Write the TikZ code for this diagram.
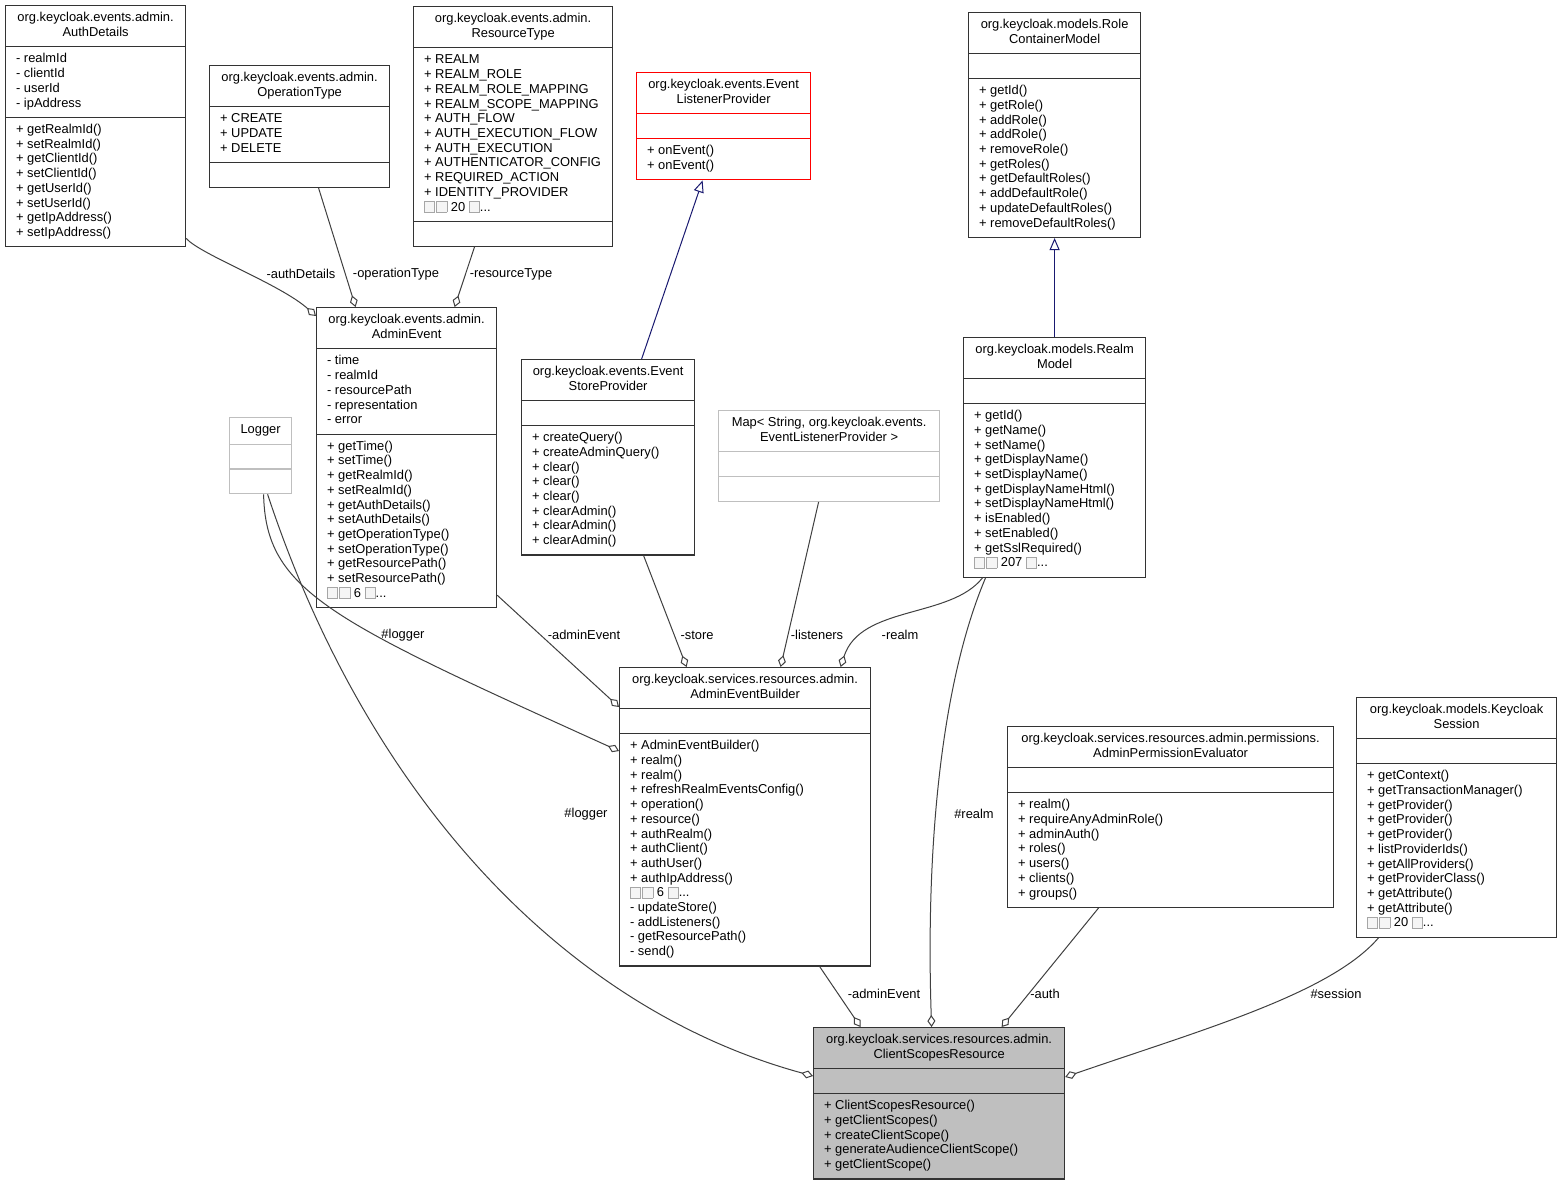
\documentclass[tikz,border=0pt]{standalone}
\usepackage{fontspec}
\setmainfont{Liberation Sans}
\usepackage{xcolor}
\usepackage{tikz}
\usetikzlibrary{
	shapes.multipart,
	arrows.meta
}

\definecolor{edgegray}{HTML}{404040}
\definecolor{inhblue}{HTML}{191970}
\definecolor{boxgray}{HTML}{BFBFBF}

\newcommand\ttl[1]{\makebox[\bw pt][c]{\begin{tabular}{@{}c@{}}#1\end{tabular}}}
\newcommand\mbr[1]{\makebox[\bw pt][l]{\hspace{10.5pt}\begin{tabular}{@{}l@{}}#1\end{tabular}}}
\newcommand\nomb{\makebox[\bw pt]{\rule[-3.5pt]{0pt}{13pt}}}
\newcommand\gl{\raisebox{-1pt}{\fboxsep=0pt\fboxrule=0.8pt\fcolorbox{gray!70}{gray!8}{\rule{0pt}{10.5pt}\hspace{9.5pt}}}}
\newcommand\more[1]{\gl\kern1pt\gl\ #1 \gl...}

\tikzset{
	cls/.style={rectangle split, rectangle split parts=3, draw=black!80, line width=1.2pt,
		inner xsep=0pt, inner ysep=5.3pt, anchor=north west, /utils/exec={\def\bw{#1}}},
	lbl/.style={inner sep=0pt},
	agg/.style={draw=edgegray, line width=1pt, -{Diamond[open, length=12pt, width=8pt]}},
	inh/.style={draw=inhblue, line width=1pt, -{Triangle[open, length=12pt, width=10pt]}}
}

\begin{document}
\begin{tikzpicture}[x=1pt, y=-1pt, font=\fontsize{12.9}{14.7}\selectfont]
	\fill[white] (0,0) rectangle (1562,1183);
	\useasboundingbox (0,0) rectangle (1562,1183);

	\node[cls=180] (authdetails) at (5,5) {\ttl{org.keycloak.events.admin.\\AuthDetails}
		\nodepart{two}\mbr{- realmId\\- clientId\\- userId\\- ipAddress}
		\nodepart{three}\mbr{+ getRealmId()\\+ setRealmId()\\+ getClientId()\\+ setClientId()\\+ getUserId()\\+ setUserId()\\+ getIpAddress()\\+ setIpAddress()}};
	\node[cls=180] (optype) at (209,65) {\ttl{org.keycloak.events.admin.\\OperationType}
		\nodepart{two}\mbr{+ CREATE\\+ UPDATE\\+ DELETE}
		\nodepart{three}\nomb};
	\node[cls=199] (restype) at (413,6) {\ttl{org.keycloak.events.admin.\\ResourceType}
		\nodepart{two}\mbr{+ REALM\\+ REALM\_ROLE\\+ REALM\_ROLE\_MAPPING\\+ REALM\_SCOPE\_MAPPING\\+ AUTH\_FLOW\\+ AUTH\_EXECUTION\_FLOW\\+ AUTH\_EXECUTION\\+ AUTHENTICATOR\_CONFIG\\+ REQUIRED\_ACTION\\+ IDENTITY\_PROVIDER\\\more{20}}
		\nodepart{three}\nomb};
	\node[cls=174, draw=red] (listener) at (636,72) {\ttl{org.keycloak.events.Event\\ListenerProvider}
		\nodepart{two}\nomb
		\nodepart{three}\mbr{+ onEvent()\\+ onEvent()}};
	\node[cls=172] (rolecont) at (968,12) {\ttl{org.keycloak.models.Role\\ContainerModel}
		\nodepart{two}\nomb
		\nodepart{three}\mbr{+ getId()\\+ getRole()\\+ addRole()\\+ addRole()\\+ removeRole()\\+ getRoles()\\+ getDefaultRoles()\\+ addDefaultRole()\\+ updateDefaultRoles()\\+ removeDefaultRoles()}};
	\node[cls=180] (adminevent) at (316,307) {\ttl{org.keycloak.events.admin.\\AdminEvent}
		\nodepart{two}\mbr{- time\\- realmId\\- resourcePath\\- representation\\- error}
		\nodepart{three}\mbr{+ getTime()\\+ setTime()\\+ getRealmId()\\+ setRealmId()\\+ getAuthDetails()\\+ setAuthDetails()\\+ getOperationType()\\+ setOperationType()\\+ getResourcePath()\\+ setResourcePath()\\\more{6}}};
	\node[cls=62, draw=boxgray] (logger) at (229,417) {\ttl{Logger}
		\nodepart{two}\nomb
		\nodepart{three}\nomb};
	\node[cls=173] (store) at (521,359) {\ttl{org.keycloak.events.Event\\StoreProvider}
		\nodepart{two}\nomb
		\nodepart{three}\mbr{+ createQuery()\\+ createAdminQuery()\\+ clear()\\+ clear()\\+ clear()\\+ clearAdmin()\\+ clearAdmin()\\+ clearAdmin()}};
	\node[cls=221, draw=boxgray] (listenermap) at (718,410) {\ttl{Map< String, org.keycloak.events.\\EventListenerProvider >}
		\nodepart{two}\nomb
		\nodepart{three}\nomb};
	\node[cls=182] (realm) at (963,337) {\ttl{org.keycloak.models.Realm\\Model}
		\nodepart{two}\nomb
		\nodepart{three}\mbr{+ getId()\\+ getName()\\+ setName()\\+ getDisplayName()\\+ setDisplayName()\\+ getDisplayNameHtml()\\+ setDisplayNameHtml()\\+ isEnabled()\\+ setEnabled()\\+ getSslRequired()\\\more{207}}};
	\node[cls=251] (builder) at (619,667) {\ttl{org.keycloak.services.resources.admin.\\AdminEventBuilder}
		\nodepart{two}\nomb
		\nodepart{three}\mbr{+ AdminEventBuilder()\\+ realm()\\+ realm()\\+ refreshRealmEventsConfig()\\+ operation()\\+ resource()\\+ authRealm()\\+ authClient()\\+ authUser()\\+ authIpAddress()\\\more{6}\\- updateStore()\\- addListeners()\\- getResourcePath()\\- send()}};
	\node[cls=326] (permeval) at (1007,726) {\ttl{org.keycloak.services.resources.admin.permissions.\\AdminPermissionEvaluator}
		\nodepart{two}\nomb
		\nodepart{three}\mbr{+ realm()\\+ requireAnyAdminRole()\\+ adminAuth()\\+ roles()\\+ users()\\+ clients()\\+ groups()}};
	\node[cls=200] (session) at (1356,697) {\ttl{org.keycloak.models.Keycloak\\Session}
		\nodepart{two}\nomb
		\nodepart{three}\mbr{+ getContext()\\+ getTransactionManager()\\+ getProvider()\\+ getProvider()\\+ getProvider()\\+ listProviderIds()\\+ getAllProviders()\\+ getProviderClass()\\+ getAttribute()\\+ getAttribute()\\\more{20}}};
	\node[cls=251, fill=boxgray] (scopes) at (813,1027) {\ttl{org.keycloak.services.resources.admin.\\ClientScopesResource}
		\nodepart{two}\nomb
		\nodepart{three}\mbr{+ ClientScopesResource()\\+ getClientScopes()\\+ createClientScope()\\+ generateAudienceClientScope()\\+ getClientScope()}};

	\draw[inh] ([xshift=33.5pt]store.north) -- ([xshift=-21pt]listener.south);
	\draw[inh] (realm.north) -- (rolecont.south);

	\draw[agg] ([yshift=9pt]authdetails.south east) .. controls +(14,16) and +(-36,-32) .. ([yshift=-9pt]adminevent.north west);
	\draw[agg] ([xshift=19pt]optype.south) -- ([xshift=-51pt]adminevent.north);
	\draw[agg] ([xshift=-38.5pt]restype.south) -- ([xshift=48pt]adminevent.north);
	\draw[agg] ([yshift=13pt]adminevent.south east) -- ([yshift=-40pt]builder.north west);
	\draw[agg] ([xshift=3pt]logger.south) .. controls +(2,97) and +(-289,-131) .. ([yshift=-84pt]builder.north west);
	\draw[agg] ([xshift=35.5pt]store.south) -- ([xshift=-58.5pt]builder.north);
	\draw[agg] ([xshift=-10.5pt]listenermap.south) -- ([xshift=35.5pt]builder.north);
	\draw[agg] ([xshift=-72pt]realm.south) .. controls +(-32,41) and +(20,-62) .. ([xshift=95.5pt]builder.north);
	\draw[agg] ([xshift=7pt]logger.south) .. controls +(99,300) and +(-250,-68) .. ([yshift=-49pt]scopes.north west);
	\draw[agg] ([xshift=-69pt]realm.south) .. controls +(-45,106) and +(-6,-177) .. ([xshift=-7.5pt]scopes.north);
	\draw[agg] ([xshift=74.5pt]builder.south) -- ([xshift=-78.5pt]scopes.north);
	\draw[agg] ([xshift=-72pt]permeval.south) -- ([xshift=62.5pt]scopes.north);
	\draw[agg] ([xshift=-78pt]session.south) .. controls +(-48,56) and +(136,-47) .. ([yshift=-50pt]scopes.north east);

	\node[lbl] (l-authdetails)   at (301,274)  {-authDetails};
	\node[lbl] (l-operationtype) at (396,274)  {-operationType};
	\node[lbl] (l-resourcetype)  at (511,274)  {-resourceType};
	\node[lbl] (l-logger1)       at (403,635)  {\#logger};
	\node[lbl] (l-adminevent1)   at (584,635)  {-adminEvent};
	\node[lbl] (l-store)         at (697,635)  {-store};
	\node[lbl] (l-listeners)     at (817,635)  {-listeners};
	\node[lbl] (l-realm1)        at (900,635)  {-realm};
	\node[lbl] (l-logger2)       at (586,814)  {\#logger};
	\node[lbl] (l-realm2)        at (974,814)  {\#realm};
	\node[lbl] (l-adminevent2)   at (884,994)  {-adminEvent};
	\node[lbl] (l-auth)          at (1045,994) {-auth};
	\node[lbl] (l-session)       at (1336,994) {\#session};
\end{tikzpicture}
\end{document}
